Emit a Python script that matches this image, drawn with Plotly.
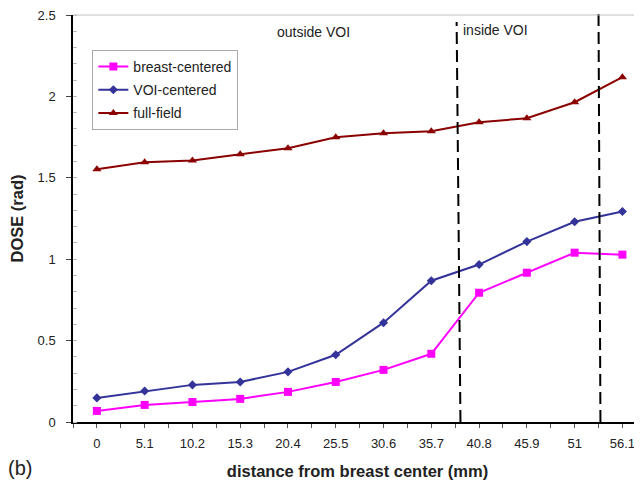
import plotly.graph_objects as go

categories = ["0", "5.1", "10.2", "15.3", "20.4", "25.5", "30.6", "35.7", "40.8", "45.9", "51", "56.1"]
breast_centered = [0.068, 0.105, 0.123, 0.142, 0.185, 0.246, 0.320, 0.419, 0.794, 0.917, 1.040, 1.028]
voi_centered = [0.148, 0.190, 0.228, 0.246, 0.308, 0.413, 0.610, 0.868, 0.967, 1.108, 1.230, 1.293]
full_field = [1.552, 1.595, 1.607, 1.644, 1.681, 1.749, 1.773, 1.786, 1.841, 1.866, 1.964, 2.118]
# dashed VOI boundary lines (category units): bottom / top positions
voi_line1 = [7.61, 7.53]
voi_line2 = [10.54, 10.50]

xi = list(range(len(categories)))
font = "Liberation Sans, Arial, sans-serif"

fig = go.Figure()
fig.add_trace(go.Scatter(x=xi, y=breast_centered, name="breast-centered", mode="lines+markers", legendgroup="a",
                         line=dict(color="#FF00FF", width=2), marker=dict(symbol="square", size=8, color="#FF00FF")))
fig.add_trace(go.Scatter(x=xi, y=voi_centered, name="VOI-centered", mode="lines+markers", legendgroup="b",
                         line=dict(color="#333399", width=2), marker=dict(symbol="diamond", size=7, color="#333399")))
fig.add_trace(go.Scatter(x=xi, y=full_field, name="full-field", mode="lines+markers", legendgroup="c",
                         line=dict(color="#8B0000", width=2), marker=dict(symbol="triangle-up", size=8, color="#8B0000")))

fig.add_shape(type="line", xref="x", yref="paper", x0=voi_line1[0], x1=voi_line1[1], y0=0, y1=0.983,
              line=dict(color="black", width=2, dash="12px,6px"))
fig.add_shape(type="line", xref="x", yref="paper", x0=voi_line2[0], x1=voi_line2[1], y0=0, y1=1.007,
              line=dict(color="black", width=2, dash="12px,6px"))
# top border
fig.add_shape(type="line", xref="paper", yref="paper", x0=0, x1=1, y0=1, y1=1,
              line=dict(color="#C0C0C0", width=1))

fig.add_annotation(x=4.54, y=2.397, xref="x", yref="y", text="outside VOI", showarrow=False,
                   font=dict(family=font, size=14, color="#222"))
fig.add_annotation(x=7.63, y=2.405, xref="x", yref="y", text="inside VOI", showarrow=False,
                   xanchor="left", font=dict(family=font, size=14, color="#222"))
fig.add_annotation(x=-0.117, y=-0.114, xref="paper", yref="paper", text="(b)", showarrow=False,
                   xanchor="left", yanchor="middle", font=dict(family=font, size=20, color="#222"))

fig.update_layout(
    width=634, height=473,
    margin=dict(l=65, r=0, t=7, b=59),
    paper_bgcolor="white", plot_bgcolor="white",
    font=dict(family=font, size=13, color="#222"),
    showlegend=True,
    legend=dict(x=0.034, y=0.914, xanchor="left", yanchor="top", bgcolor="white",
                bordercolor="#AAAAAA", borderwidth=1, font=dict(family=font, size=14, color="#222"),
                tracegroupgap=2, itemwidth=30),
    xaxis=dict(range=[-0.5, 11.41], tickvals=xi, ticktext=categories, ticks="outside", ticklen=4,
               tickcolor="#555", showgrid=False, ticklabelstandoff=5,
               showline=True, linecolor="black", linewidth=1.5, zeroline=False, automargin=False,
               minor=dict(tick0=-0.5, dtick=1, ticks="outside", ticklen=4, tickcolor="#555"),
               title=dict(text="<b>distance from breast center (mm)</b>", font=dict(size=16.5), standoff=15)),
    yaxis=dict(range=[0, 2.5], tickvals=[0, 0.5, 1, 1.5, 2, 2.5], ticktext=["0", "0.5", "1", "1.5", "2", "2.5"],
               ticks="outside", ticklen=5, tickcolor="#444", showgrid=False, ticklabeloverflow="allow",
               ticklabelstandoff=8,
               showline=True, linecolor="black", linewidth=1.5, zeroline=False, automargin=False,
               minor=dict(dtick=0.1, ticks="inside", ticklen=4, tickcolor="#BBBBBB"),
               title=dict(text="<b>DOSE (rad)</b>", font=dict(size=16.5), standoff=12)),
)

fig.write_html("out.html")
